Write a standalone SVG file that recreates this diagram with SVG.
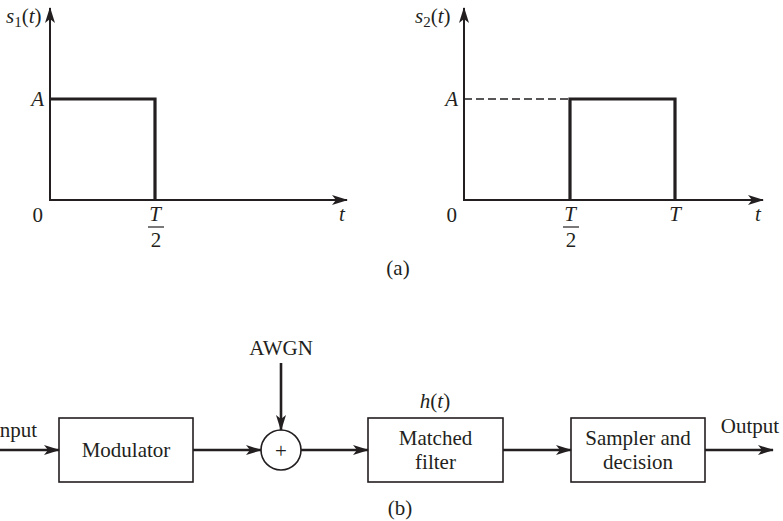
<svg xmlns="http://www.w3.org/2000/svg" width="783" height="521" viewBox="0 0 783 521">
<style>
text{font-family:"Liberation Serif","Times New Roman",serif;font-size:21px;fill:#231f20}
.i{font-style:italic}
.axis{stroke:#231f20;stroke-width:2;fill:none}
.sig{stroke:#231f20;stroke-width:3.2;fill:none;stroke-linejoin:miter}
.box{stroke:#231f20;stroke-width:1.6;fill:#fff}
.con{stroke:#231f20;stroke-width:2.6;fill:none}
.dash{stroke:#231f20;stroke-width:1.3;stroke-dasharray:8,4;fill:none}
</style>
<defs>
<marker id="ah" viewBox="0 0 16 10" refX="15" refY="5" markerWidth="16" markerHeight="10" markerUnits="userSpaceOnUse" orient="auto">
<path d="M0,0 L16,5 L0,10 L4,5 Z" fill="#231f20"/>
</marker>
</defs>
<g id="plot1">
<path class="axis" d="M50,201 V8" marker-end="url(#ah)"/>
<path class="axis" d="M49,200 H347" marker-end="url(#ah)"/>
<path class="sig" d="M50,99 H155 V200"/>
<text x="6" y="23" font-size="22"><tspan class="i">s</tspan><tspan font-size="15" dy="4">1</tspan><tspan dy="-4">(</tspan><tspan class="i">t</tspan>)</text>
<text class="i" x="44" y="106" text-anchor="end">A</text>
<text x="43" y="222" text-anchor="end">0</text>
<text class="i" x="155" y="221" text-anchor="middle">T</text>
<line x1="148" y1="227" x2="164" y2="227" stroke="#231f20" stroke-width="1.2"/>
<text x="156" y="247" text-anchor="middle">2</text>
<text class="i" x="342" y="221" text-anchor="middle">t</text>
</g>
<g id="plot2">
<path class="axis" d="M464,201 V8" marker-end="url(#ah)"/>
<path class="axis" d="M463,200 H763" marker-end="url(#ah)"/>
<path class="dash" d="M464,99 H570"/>
<path class="sig" d="M570,200 V99 H675 V200"/>
<text x="415" y="23" font-size="22"><tspan class="i">s</tspan><tspan font-size="15" dy="4">2</tspan><tspan dy="-4">(</tspan><tspan class="i">t</tspan>)</text>
<text class="i" x="458" y="106" text-anchor="end">A</text>
<text x="457" y="222" text-anchor="end">0</text>
<text class="i" x="570" y="221" text-anchor="middle">T</text>
<line x1="563" y1="227" x2="579" y2="227" stroke="#231f20" stroke-width="1.2"/>
<text x="571" y="247" text-anchor="middle">2</text>
<text class="i" x="675" y="221" text-anchor="middle">T</text>
<text class="i" x="758" y="221" text-anchor="middle">t</text>
</g>
<text x="398" y="275" text-anchor="middle">(a)</text>
<g id="modulator">
<rect class="box" x="59" y="418" width="134" height="64"/>
<text x="126" y="457" text-anchor="middle">Modulator</text>
</g>
<g id="adder">
<circle cx="281" cy="450" r="20" class="box"/>
<text x="281" y="458" text-anchor="middle" font-size="24">+</text>
</g>
<g id="awgn">
<text x="281" y="355" text-anchor="middle">AWGN</text>
</g>
<g id="matched">
<text x="435" y="408" text-anchor="middle"><tspan class="i">h</tspan>(<tspan class="i">t</tspan>)</text>
<rect class="box" x="368" y="418" width="135" height="64"/>
<text x="435.5" y="445" text-anchor="middle">Matched</text>
<text x="435.5" y="469" text-anchor="middle">filter</text>
</g>
<g id="sampler">
<rect class="box" x="571" y="418" width="134" height="64"/>
<text x="638" y="445" text-anchor="middle">Sampler and</text>
<text x="638" y="469" text-anchor="middle">decision</text>
</g>
<g id="input">
<text x="37" y="437" text-anchor="end">Input</text>
</g>
<g id="output">
<text x="750" y="433" text-anchor="middle">Output</text>
</g>
<g id="connectors">
<path class="con" d="M0,450 H59" marker-end="url(#ah)"/>
<path class="con" d="M193,450 H261" marker-end="url(#ah)"/>
<path class="con" d="M281,363 V430" marker-end="url(#ah)"/>
<path class="con" d="M301,450 H368" marker-end="url(#ah)"/>
<path class="con" d="M503,450 H571" marker-end="url(#ah)"/>
<path class="con" d="M705,450 H773" marker-end="url(#ah)"/>
</g>
<text x="400" y="515" text-anchor="middle">(b)</text>
</svg>
